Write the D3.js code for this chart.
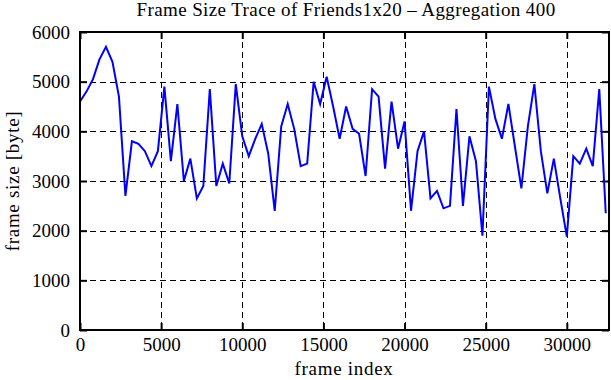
<!DOCTYPE html>
<html>
<head>
<meta charset="utf-8">
<script src="https://cdn.jsdelivr.net/npm/d3@7"></script>
<style>
  body { margin: 0; background: #fff; }
  text { font-family: "Liberation Serif", "Times New Roman", serif; fill: #000; }
</style>
</head>
<body>
<div class="canva"></div>
<script>
// aggregated frame sizes, one value per 400 frames
const STEP = 400;
const frameSize = [
  4600, 4800, 5050, 5450, 5700, 5400, 4700, 2700, 3800, 3750,
  3600, 3300, 3600, 4900, 3400, 4550, 3000, 3450, 2650, 2900,
  4850, 2900, 3350, 2950, 4950, 3900, 3500, 3850, 4150, 3550,
  2400, 4100, 4550, 4050, 3300, 3350, 5000, 4550, 5100, 4500,
  3850, 4500, 4050, 3950, 3100, 4850, 4700, 3250, 4600, 3650,
  4200, 2400, 3600, 4000, 2650, 2800, 2450, 2500, 4450, 2500,
  3900, 3400, 1900, 4900, 4250, 3850, 4550, 3700, 2850, 4100,
  4950, 3600, 2750, 3450, 2650, 1880, 3500, 3350, 3650, 3300,
  4850, 2350
];
const frameIndex = frameSize.map((d, i) => i * STEP);

const xTicks = [0, 5000, 10000, 15000, 20000, 25000, 30000];
const yTicks = [0, 1000, 2000, 3000, 4000, 5000, 6000];

const WIDTH = 611, HEIGHT = 380;
const MARGIN = { TOP: 32, RIGHT: 2, BOTTOM: 50, LEFT: 80 };
const W = WIDTH - MARGIN.LEFT - MARGIN.RIGHT;
const H = HEIGHT - MARGIN.TOP - MARGIN.BOTTOM;
const FONT = "19px";

const svg = d3.select(".canva").append("svg")
    .attr("width", WIDTH)
    .attr("height", HEIGHT);

const g = svg.append("g")
    .attr("transform", `translate(${MARGIN.LEFT}, ${MARGIN.TOP})`);

const x = d3.scaleLinear().domain([0, 32600]).range([0, W]);
const y = d3.scaleLinear().domain([0, 6000]).range([H, 0]);

// dashed grid
g.append("g").selectAll("line")
    .data(yTicks.slice(1, -1))
    .enter().append("line")
    .attr("x1", 0).attr("x2", W)
    .attr("y1", d => Math.round(y(d)) + 0.5).attr("y2", d => Math.round(y(d)) + 0.5)
    .attr("stroke", "#000").attr("stroke-width", 1)
    .attr("stroke-dasharray", "6,4");

g.append("g").selectAll("line")
    .data(xTicks.slice(1))
    .enter().append("line")
    .attr("y1", 0).attr("y2", H)
    .attr("x1", d => Math.round(x(d)) + 0.5).attr("x2", d => Math.round(x(d)) + 0.5)
    .attr("stroke", "#000").attr("stroke-width", 1)
    .attr("stroke-dasharray", "6,4");

// axes: labels outside, ticks inward
const xAxis = g.append("g")
    .attr("transform", `translate(0, ${H})`)
    .call(d3.axisBottom(x).tickValues(xTicks).tickFormat(d3.format("d")).tickSizeInner(-7).tickSizeOuter(0).tickPadding(8));
const xTop = g.append("g")
    .call(d3.axisTop(x).tickValues(xTicks).tickFormat("").tickSizeInner(-7).tickSizeOuter(0));
const yAxis = g.append("g")
    .call(d3.axisLeft(y).tickValues(yTicks).tickFormat(d3.format("d")).tickSizeInner(-7).tickSizeOuter(0).tickPadding(10));
const yRight = g.append("g")
    .attr("transform", `translate(${W}, 0)`)
    .call(d3.axisRight(y).tickValues(yTicks).tickFormat("").tickSizeInner(-7).tickSizeOuter(0));

[xAxis, xTop, yAxis, yRight].forEach(a => {
    a.select(".domain").remove();
    a.selectAll(".tick line").attr("stroke", "#000").attr("stroke-width", 2);
    a.selectAll("text").style("font-size", FONT).style("font-family", "Liberation Serif");
});

// data line
const line = d3.line()
    .x((d, i) => x(frameIndex[i]))
    .y(d => y(d));

g.append("path")
    .datum(frameSize)
    .attr("fill", "none")
    .attr("stroke", "#0000ff")
    .attr("stroke-width", 2)
    .attr("d", line);

// frame
g.append("rect")
    .attr("x", 0).attr("y", 0)
    .attr("width", W).attr("height", H)
    .attr("fill", "none")
    .attr("stroke", "#000")
    .attr("stroke-width", 2);

// titles
svg.append("text")
    .attr("x", 346).attr("y", 16)
    .attr("text-anchor", "middle")
    .style("font-size", FONT)
    .style("letter-spacing", "0.4px")
    .text("Frame Size Trace of Friends1x20 \u2013 Aggregation 400");

svg.append("text")
    .attr("x", 344).attr("y", 375)
    .attr("text-anchor", "middle")
    .style("font-size", FONT)
    .style("letter-spacing", "0.7px")
    .text("frame index");

svg.append("text")
    .attr("transform", "translate(19, 181) rotate(-90)")
    .attr("text-anchor", "middle")
    .style("font-size", FONT)
    .style("letter-spacing", "0.7px")
    .text("frame size [byte]");
</script>
</body>
</html>
